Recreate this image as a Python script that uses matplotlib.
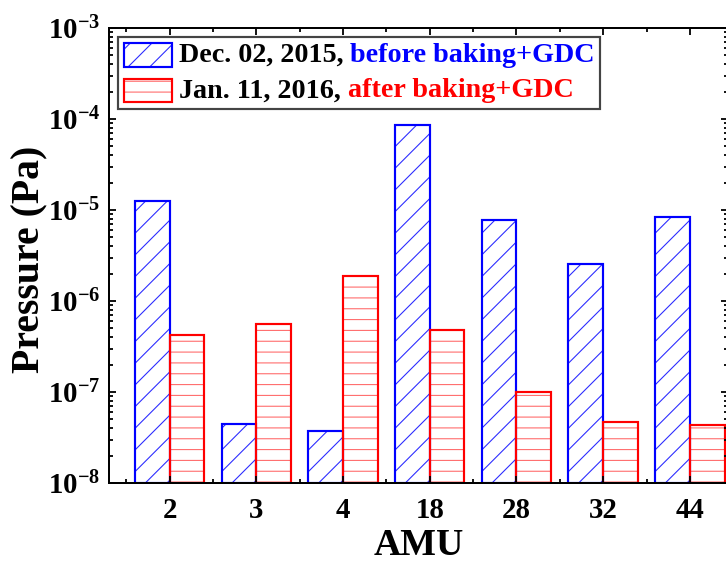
import matplotlib
matplotlib.use("Agg")
import matplotlib.pyplot as plt
import numpy as np
from matplotlib.patches import Rectangle
from matplotlib.offsetbox import AnchoredOffsetbox, DrawingArea, TextArea, HPacker, VPacker
from matplotlib.ticker import FixedLocator, FuncFormatter, LogLocator, NullFormatter

# --- data -------------------------------------------------------------
amu = ["2", "3", "4", "18", "28", "32", "44"]
before_gdc = [1.26e-5, 4.45e-8, 3.75e-8, 8.6e-5, 7.8e-6, 2.55e-6, 8.4e-6]
after_gdc = [4.2e-7, 5.6e-7, 1.9e-6, 4.75e-7, 1.0e-7, 4.7e-8, 4.35e-8]
label_dates = ["Dec. 02, 2015,", "Jan. 11, 2016,"]
label_notes = ["before baking+GDC", "after baking+GDC"]

# --- style ------------------------------------------------------------
DPI = 130
plt.rcParams["font.family"] = ["Liberation Serif", "DejaVu Serif"]
plt.rcParams["font.weight"] = "bold"
plt.rcParams["mathtext.fontset"] = "custom"
plt.rcParams["mathtext.rm"] = "Liberation Serif:bold"
plt.rcParams["mathtext.bf"] = "Liberation Serif:bold"
plt.rcParams["mathtext.it"] = "Liberation Serif:bold:italic"
plt.rcParams["hatch.linewidth"] = 0.6

blue = "#0000FF"
red = "#FF0000"
blue_hatch = "#2a2aff"
red_hatch = "#ff6a6a"
hatches = ["//", "--"]

fig = plt.figure(figsize=(726 / DPI, 562 / DPI), dpi=DPI)
ax = fig.add_axes([109 / 726, 1 - 483 / 562, 619 / 726, 455 / 562])

x = np.arange(1, len(amu) + 1)
w = 0.40
floor = 1e-8
b_h = np.array(before_gdc) - floor
a_h = np.array(after_gdc) - floor

# hatch layer, then outline layer on top
ax.bar(x - w / 2, b_h, w, bottom=floor, facecolor="none",
       edgecolor=blue_hatch, hatch=hatches[0], linewidth=0)
ax.bar(x + w / 2, a_h, w, bottom=floor, facecolor="none",
       edgecolor=red_hatch, hatch=hatches[1], linewidth=0)
ax.bar(x - w / 2, b_h, w, bottom=floor, facecolor="none",
       edgecolor=blue, linewidth=1.2)
ax.bar(x + w / 2, a_h, w, bottom=floor, facecolor="none",
       edgecolor=red, linewidth=1.2)

ax.set_yscale("log")
ax.set_ylim(1e-8, 1e-3)
ax.set_xlim(0.30, 7.44)

ax.xaxis.set_major_locator(FixedLocator(x))
ax.set_xticklabels(amu)
ax.xaxis.set_minor_locator(FixedLocator(np.arange(0.5, 8.0, 1.0)))
ax.yaxis.set_major_locator(LogLocator(base=10, numticks=10))
ax.yaxis.set_minor_locator(LogLocator(base=10, subs=np.arange(2, 10), numticks=20))
ax.yaxis.set_major_formatter(FuncFormatter(lambda v, p: r"$\mathbf{10^{%d}}$" % round(np.log10(v))))
ax.yaxis.set_minor_formatter(NullFormatter())

ax.tick_params(which="both", direction="in", top=True, right=True, width=1.0)
ax.tick_params(which="major", length=4.0, labelsize=16, pad=5)
ax.tick_params(which="minor", length=2.2)
ax.tick_params(axis="x", which="major", pad=7.5)
for s in ax.spines.values():
    s.set_linewidth(1.1)

ax.set_xlabel("AMU", fontsize=21, fontweight="bold")
ax.xaxis.set_label_coords(0.5, -0.137)
ax.xaxis.label.set_verticalalignment("center")
ax.set_ylabel("Pressure (Pa)", fontsize=22, fontweight="bold")
ax.yaxis.set_label_coords(-0.1276, 0.492)
ax.yaxis.label.set_verticalalignment("center")

# legend: hatched swatch + black date + coloured note on each row
fs = 15.6
hw, hh = 27.0, 13.0
rows = []
for d, n, c, hc, hp in zip(label_dates, label_notes, [blue, red],
                           [blue_hatch, red_hatch], hatches):
    da = DrawingArea(hw, hh, 0, 0)
    da.add_artist(Rectangle((0, 0), hw, hh, facecolor="none", edgecolor=hc,
                            hatch=hp, linewidth=0))
    da.add_artist(Rectangle((0, 0), hw, hh, facecolor="none", edgecolor=c,
                            linewidth=1.2))
    t1 = TextArea(d, textprops=dict(fontsize=fs, fontweight="bold", color="black"))
    t2 = TextArea(n, textprops=dict(fontsize=fs, fontweight="bold", color=c))
    rows.append(HPacker(children=[da, t1, t2], align="center", pad=0, sep=3.7))
box = VPacker(children=rows, align="left", pad=0, sep=5.8)
leg = AnchoredOffsetbox(loc="upper left", child=box, pad=0.2, borderpad=0,
                        prop=dict(size=fs), frameon=True,
                        bbox_to_anchor=(0.0145, 0.980), bbox_transform=ax.transAxes)
leg.patch.set_boxstyle("square", pad=0)
leg.patch.set_edgecolor("#444444")
leg.patch.set_facecolor("white")
leg.patch.set_linewidth(1.2)
ax.add_artist(leg)

fig.savefig("out.png", dpi=DPI)
